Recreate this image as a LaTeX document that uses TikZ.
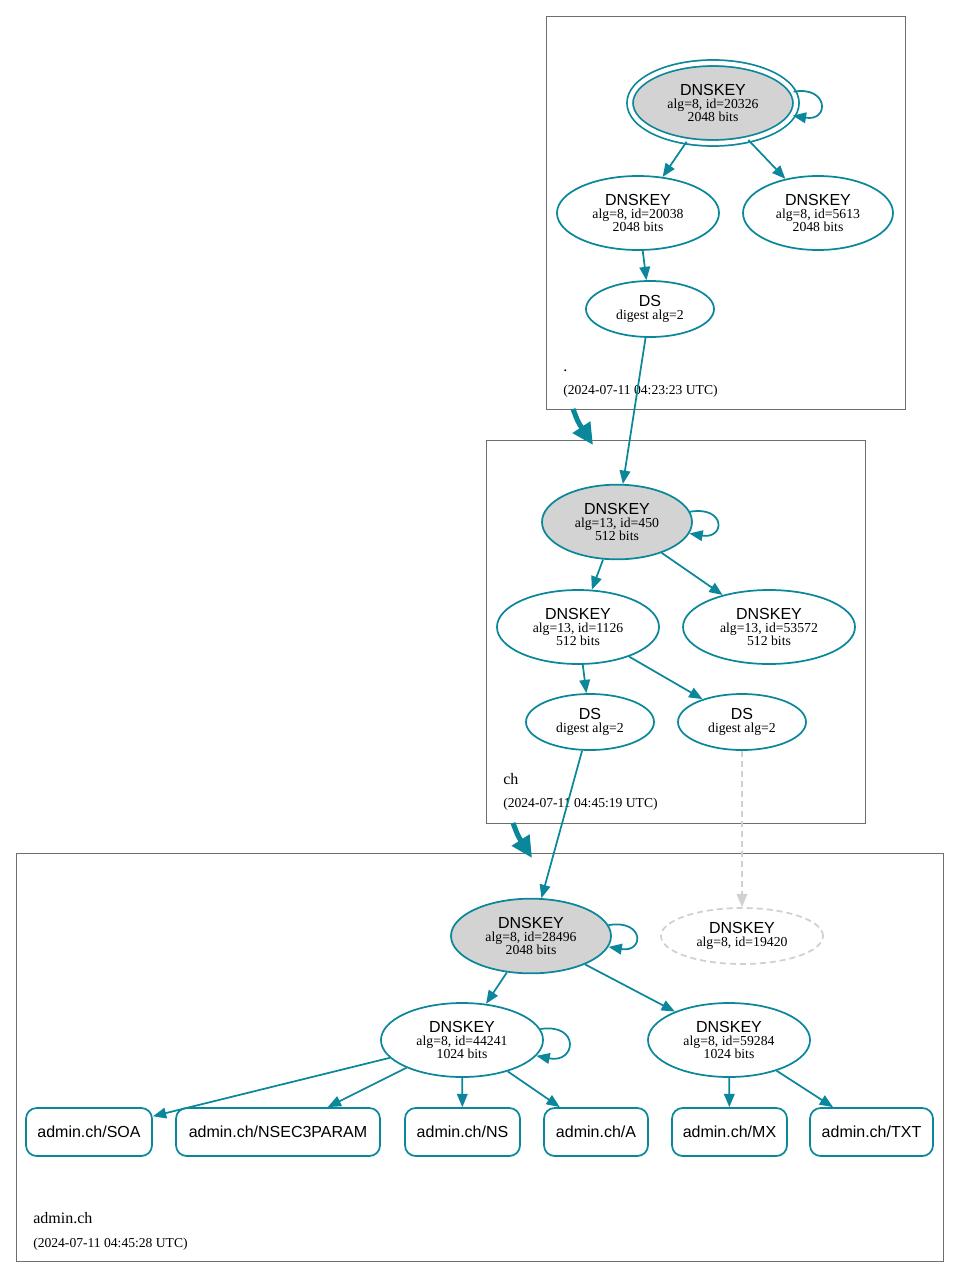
\documentclass[tikz,border=0pt]{standalone}
\usepackage{fontspec}
\setmainfont{Liberation Serif}
\newfontfamily\hv{Liberation Sans}
\usetikzlibrary{shapes.geometric,arrows.meta}
\definecolor{sec}{HTML}{0A879A}
\definecolor{kfill}{HTML}{D3D3D3}
\definecolor{ins}{HTML}{D0D0D0}
\definecolor{clus}{HTML}{6E6E6E}
\newcommand{\ttl}[1]{{\hv\fontsize{12}{10}\selectfont #1}}
\begin{document}
\begin{tikzpicture}[x=0.75pt,y=-0.75pt,
  key/.style={ellipse, draw=sec, line width=1.3pt, inner sep=0pt, align=center,
    font=\fontsize{10.3}{10}\selectfont},
  filled/.style={fill=kfill},
  dskey/.style={key, minimum width=96pt, minimum height=42pt},
  ghost/.style={key, draw=ins, dashed, dash pattern=on 4.5pt off 3pt},
  rr/.style={rectangle, rounded corners=8pt, draw=sec, line width=1.3pt, minimum height=36pt,
    inner sep=0pt, font=\hv\fontsize{12}{14}\selectfont},
  conn/.style={draw=sec, line width=1.3pt, -{Triangle[length=10pt,width=8pt]}},
  ghostconn/.style={draw=ins, line width=1.3pt, dashed, dash pattern=on 4.5pt off 3pt,
    -{Triangle[length=10pt,width=8pt]}},
  deleg/.style={draw=sec, line width=3.8pt, -{Triangle[length=16pt,width=15pt]}},
  clusbox/.style={draw=clus, line width=0.75pt},
  cname/.style={anchor=base west, inner sep=0pt, font=\fontsize{12}{14}\selectfont},
  cdate/.style={anchor=base west, inner sep=0pt, font=\fontsize{10.2}{12}\selectfont}
]
\useasboundingbox (0,0) rectangle (960,1278);

% clusters
\draw[clusbox] (546,16) rectangle (905,409);
\draw[clusbox] (486,440) rectangle (865,823);
\draw[clusbox] (16,853) rectangle (943,1261);

% cluster labels
\node[cname] (lroot) at (563,371) {.};
\node[cdate] (droot) at (563,394) {(2024-07-11 04:23:23 UTC)};
\node[cname] (lch) at (503,784) {ch};
\node[cdate] (dch) at (503,807) {(2024-07-11 04:45:19 UTC)};
\node[cname] (ladm) at (33,1223) {admin.ch};
\node[cdate] (dadm) at (33,1247) {(2024-07-11 04:45:28 UTC)};

% root zone
\node[key, filled, double=white, double distance=3.2pt, minimum width=124.5pt, minimum height=60pt]
  (rk) at (713,103) {\ttl{DNSKEY}\\alg=8, id=20326\\2048 bits};
\node[key, minimum width=121.5pt, minimum height=55.5pt] (rz1) at (638,213) {\ttl{DNSKEY}\\alg=8, id=20038\\2048 bits};
\node[key, minimum width=112.5pt, minimum height=55.5pt] (rz2) at (818,213) {\ttl{DNSKEY}\\alg=8, id=5613\\2048 bits};
\node[dskey] (rds) at (650,309) {\ttl{DS}\\digest alg=2};

% ch zone
\node[key, filled, minimum width=112.5pt, minimum height=56pt] (ck) at (617,522) {\ttl{DNSKEY}\\alg=13, id=450\\512 bits};
\node[key, minimum width=121.5pt, minimum height=55.5pt] (cz1) at (578,627) {\ttl{DNSKEY}\\alg=13, id=1126\\512 bits};
\node[key, minimum width=129pt, minimum height=55.5pt] (cz2) at (769,627) {\ttl{DNSKEY}\\alg=13, id=53572\\512 bits};
\node[dskey] (cds1) at (590,722) {\ttl{DS}\\digest alg=2};
\node[dskey] (cds2) at (742,722) {\ttl{DS}\\digest alg=2};

% admin.ch zone
\node[key, filled, minimum width=120pt, minimum height=56pt] (ak) at (531,936) {\ttl{DNSKEY}\\alg=8, id=28496\\2048 bits};
\node[ghost, minimum width=121.5pt, minimum height=42pt] (ag) at (742,936) {\ttl{DNSKEY}\\alg=8, id=19420};
\node[key, minimum width=121.5pt, minimum height=55.5pt] (az1) at (462,1040) {\ttl{DNSKEY}\\alg=8, id=44241\\1024 bits};
\node[key, minimum width=121.5pt, minimum height=55.5pt] (az2) at (729,1040) {\ttl{DNSKEY}\\alg=8, id=59284\\1024 bits};

\node[rr, minimum width=94.5pt] (soa) at (89,1132) {admin.ch/SOA};
\node[rr, minimum width=153pt] (nsp) at (278,1132) {admin.ch/NSEC3PARAM};
\node[rr, minimum width=86.25pt] (ns) at (462.5,1132) {admin.ch/NS};
\node[rr, minimum width=78pt] (ra) at (596,1132) {admin.ch/A};
\node[rr, minimum width=86.25pt] (mx) at (729.5,1132) {admin.ch/MX};
\node[rr, minimum width=92.25pt] (txt) at (871.5,1132) {admin.ch/TXT};

% delegation arrows
\coordinate (d1s) at (573,409);
\coordinate (d1e) at (593,445);
\coordinate (d2s) at (513,823);
\coordinate (d2e) at (532,858);
\draw[deleg] (d1s) .. controls (578,422) .. (d1e);
\draw[deleg] (d2s) .. controls (518,836) .. (d2e);

% self loops
\draw[conn] (rk.8) .. controls +(35,-6) and +(37,6) .. (rk.-9);
\draw[conn] (ck.8) .. controls +(36,-6) and +(36,6) .. (ck.-9);
\draw[conn] (ak.8) .. controls +(36,-6) and +(36,6) .. (ak.-8);
\draw[conn] (az1.8) .. controls +(40,-6) and +(40,8) .. (az1.-12);

% edges
\draw[conn] (rk) -- (rz1);
\draw[conn] (rk) -- (rz2);
\draw[conn] (rz1) -- (rds);
\draw[conn] (rds) -- (ck);
\draw[conn] (ck) -- (cz1);
\draw[conn] (ck) -- (cz2);
\draw[conn] (cz1) -- (cds1);
\draw[conn] (cz1) -- (cds2);
\draw[conn] (cds1) -- (ak);
\draw[ghostconn] (cds2) -- (ag);
\draw[conn] (ak) -- (az1);
\draw[conn] (ak) -- (az2);
\draw[conn] (az1) -- (soa);
\draw[conn] (az1) -- (nsp);
\draw[conn] (az1) -- (ns);
\draw[conn] (az1) -- (ra);
\draw[conn] (az2) -- (mx);
\draw[conn] (az2) -- (txt);
\end{tikzpicture}
\end{document}
